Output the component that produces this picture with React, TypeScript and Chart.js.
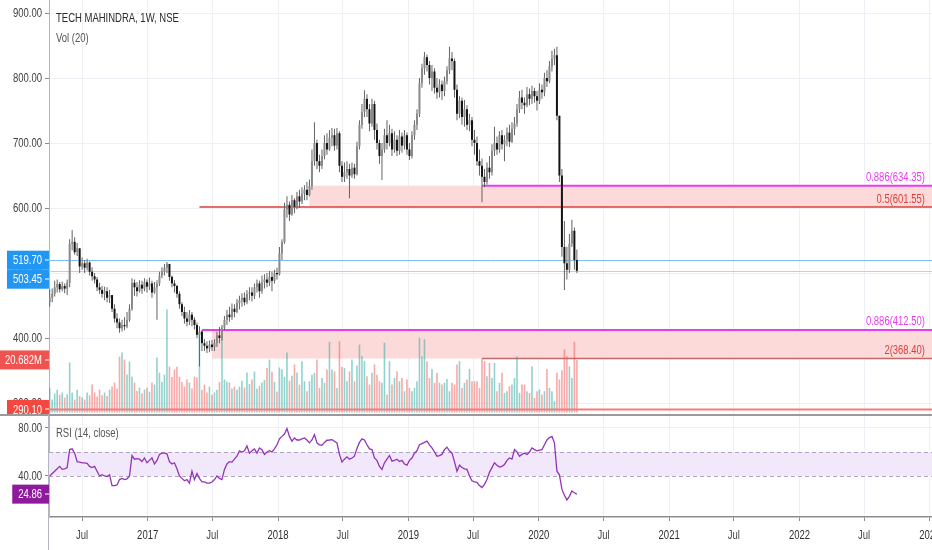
import { useEffect, useRef } from "react"
import { Chart, registerables } from "chart.js"

Chart.register(...registerables)

const FONT = "'Liberation Sans', Arial, sans-serif"
const FONT_SIZE = 13
const TEXT_SCALE = 0.73
const AXIS_TEXT = "#3e3e3e"
const GRID = "#edf0f4"
const MAGENTA = "#e83cf0"
const FIB_RED = "#d9403c"
const FIB_BROWN = "#bf6b6b"
const ZONE_FILL = "#fcdada"

// weekly candles, first one in the week of 1 Apr 2016
const FIRST_WEEK = "2016-04-01"
const FIRST_OPEN = 455
const VIEW_START = "2016-03-30"
const VIEW_END = "2023-01-07"

const CLOSES = [
    462, 468, 478, 483, 475, 480, 476, 485, 545, 548,
    532, 538, 510, 515, 508, 516, 502, 495, 490, 478,
    474, 468, 472, 462, 466, 445, 430, 424, 415, 420,
    418, 428, 445, 485, 478, 472, 482, 476, 486, 479,
    484, 470, 478, 484, 496, 502, 508, 514, 494, 484,
    480, 468, 452, 440, 430, 425, 436, 428, 420, 405,
    410, 392, 388, 384, 390, 386, 392, 404, 400, 416,
    428, 436, 432, 445, 440, 454, 458, 462, 455, 468,
    470, 465, 478, 484, 472, 486, 490, 485, 494, 488,
    500, 498, 530, 548, 598, 605, 590, 612, 602, 618,
    610, 622, 628, 620, 634, 672, 700, 672, 665, 680,
    700, 690, 708, 712, 696, 715, 665, 648, 655, 660,
    650, 662, 652, 695, 728, 748, 768, 752, 730, 760,
    720, 700, 680, 690, 712, 700, 715, 690, 705, 688,
    710, 696, 712, 690, 680, 712, 728, 745, 792, 815,
    832, 820, 800, 810, 785, 778, 790, 780, 795, 812,
    830, 826, 782, 745, 765, 740, 752, 728, 735, 705,
    700, 672, 665, 648, 640, 662, 655, 688, 700, 690,
    712, 698, 705, 716, 702, 722, 730, 752, 770, 762,
    758, 775, 768, 780, 772, 765, 782, 778, 800, 795,
    818, 830, 835, 742, 650, 540, 515, 505, 545, 565,
    520, 503.45,
]

const HIGHS = [
    475, 476, 488, 490, 486, 487, 484, 490, 552, 566,
    555, 546, 530, 524, 520, 522, 518, 509, 500, 494,
    485, 480, 479, 478, 474, 466, 452, 438, 430, 428,
    432, 440, 452, 492, 490, 486, 489, 488, 492, 490,
    493, 488, 486, 489, 502, 509, 514, 517, 514, 496,
    489, 482, 472, 455, 448, 440, 443, 440, 432, 424,
    418, 412, 398, 395, 396, 397, 398, 410, 417, 420,
    434, 443, 448, 453, 452, 460, 465, 469, 470, 474,
    478, 478, 484, 490, 488, 496, 498, 500, 503, 502,
    505, 508, 540, 552, 608, 618, 610, 620, 615, 625,
    628, 632, 635, 640, 644, 690, 732, 705, 682, 690,
    712, 715, 720, 723, 722, 723, 718, 672, 670, 672,
    668, 670, 668, 702, 735, 760, 781, 775, 760, 768,
    765, 730, 705, 700, 722, 735, 728, 722, 718, 712,
    720, 716, 720, 716, 700, 718, 735, 752, 800, 822,
    840, 836, 826, 820, 815, 800, 798, 796, 802, 818,
    848, 840, 830, 790, 772, 770, 766, 758, 745, 740,
    720, 710, 690, 676, 660, 670, 680, 698, 725, 710,
    718, 720, 712, 724, 728, 732, 740, 760, 780, 782,
    770, 786, 784, 788, 785, 780, 792, 790, 808, 812,
    826, 842, 845, 848, 742, 660, 580, 540, 560, 582,
    570, 536,
]

const LOWS = [
    448, 455, 464, 470, 470, 472, 469, 466, 478, 535,
    528, 526, 500, 505, 500, 504, 496, 488, 484, 472,
    468, 462, 458, 455, 454, 440, 424, 415, 408, 410,
    412, 415, 425, 442, 465, 464, 470, 468, 472, 470,
    474, 462, 468, 428, 480, 492, 496, 500, 488, 478,
    470, 462, 445, 434, 422, 418, 420, 418, 413, 400,
    356, 380, 380, 377, 378, 380, 380, 386, 392, 396,
    412, 420, 425, 428, 432, 438, 444, 448, 450, 452,
    458, 456, 460, 470, 462, 468, 476, 478, 480, 472,
    484, 490, 496, 520, 545, 585, 580, 588, 592, 598,
    600, 606, 612, 612, 618, 628, 665, 660, 655, 660,
    675, 682, 688, 695, 688, 690, 655, 640, 640, 645,
    615, 646, 645, 650, 690, 722, 740, 740, 718, 725,
    705, 690, 668, 643, 685, 690, 695, 680, 685, 680,
    682, 685, 690, 682, 674, 676, 705, 720, 740, 785,
    805, 810, 790, 780, 776, 768, 770, 766, 772, 790,
    806, 812, 770, 735, 738, 728, 725, 720, 718, 695,
    682, 665, 650, 609, 632, 636, 645, 650, 680, 682,
    685, 690, 672, 695, 694, 700, 712, 725, 746, 752,
    745, 755, 758, 760, 762, 750, 760, 768, 772, 786,
    792, 810, 820, 735, 640, 525, 474, 490, 500, 540,
    505, 500,
]

// weekly volume, millions of shares
const VOLUMES = [
    9.8, 5.1, 7.5, 9, 7, 7.9, 5.9, 7.2, 19.7, 7.9,
    5.1, 9, 6.5, 5.9, 5.1, 7.9, 6.8, 11, 7.9, 6.2,
    9, 6.8, 7.9, 6.5, 9, 10.2, 11.8, 9.5, 22, 23.6,
    20.8, 15, 20, 14.1, 11.8, 8.5, 9.8, 7.5, 9, 9.8,
    8.2, 11.8, 11, 21.6, 15.7, 12, 14.9, 40.5, 18, 14,
    16.9, 18, 14.1, 12, 10.2, 13, 11.8, 9.5, 14.1, 13.8,
    31.4, 9, 11, 7.9, 10.2, 7, 7.9, 9, 12, 30.7,
    13, 12.2, 11.8, 9.5, 10.2, 9, 10.2, 12.5, 9.8, 15.7,
    11.2, 13, 16.1, 9.5, 10.4, 11.8, 12.8, 17.5, 20.8, 16,
    12, 8.3, 17.7, 17, 14, 23.6, 12.5, 14.5, 18.9, 15.7,
    11, 20.2, 12.3, 8.4, 12.3, 14.9, 15.6, 20.8, 9.7, 13.6,
    11.7, 16.9, 27.8, 16.9, 16.2, 9.7, 28, 17.9, 17.5, 12.3,
    16.2, 20.8, 12.3, 18.5, 26.7, 22.1, 20.2, 14.3, 11, 15.6,
    18.9, 14.9, 12.3, 11.7, 27.4, 7.1, 20.2, 11, 13.6, 16.2,
    12.3, 13.6, 8.4, 13, 9.7, 8.4, 9.7, 12.3, 29.4, 22,
    28.8, 20.2, 13.6, 17.1, 11.7, 15.6, 11.7, 11, 11.7, 13.2,
    8.4, 11.7, 11, 18.9, 20.2, 9.7, 11.7, 13, 17.1, 12.3,
    12.3, 12.3, 9.7, 21.1, 20.2, 14.3, 19.5, 13.6, 19.5, 8.4,
    11.7, 15.6, 7.7, 8.4, 10.4, 11, 13.6, 22.1, 7.7, 11,
    11, 8.4, 7.7, 18.2, 5.8, 8.4, 9.1, 7.1, 8.4, 17.1,
    9.7, 8.4, 4.5, 15.6, 13, 16.6, 24.8, 22.1, 18.2, 13.6,
    27.8, 20.682,
]

const RSI_VALUES = [
    40, 42, 44, 46, 48, 45.5, 46, 47, 62, 62.6,
    59, 52, 51.5, 51, 51, 50.5, 48, 47, 48, 44,
    40, 41, 40, 39.5, 41, 32, 32, 32.5, 37, 38,
    37, 37.5, 40, 57, 54, 54.5, 54, 52, 55, 51,
    53, 55, 50, 53, 58, 59, 59, 58.5, 52, 50,
    51, 46, 40, 38, 36, 37, 34, 44, 37, 42,
    38, 35, 35, 34, 34, 35, 37, 40, 38, 37,
    45.5, 50, 52, 51.6, 54, 56.5, 61, 60, 61, 65,
    59, 61, 62.6, 59, 63.4, 62, 58, 60, 61, 60,
    62.6, 66, 71, 73, 75, 79.5, 73, 69, 71.7, 70,
    70, 71, 71.7, 70, 67.6, 70, 74.5, 67.6, 66, 65.6,
    68, 69.8, 70, 70.3, 69, 67.6, 58, 51.6, 54, 56,
    54, 55, 56.5, 63, 68, 71, 70, 66, 62.6, 62,
    55, 53, 48, 45.5, 51, 54, 57, 52.4, 53, 54,
    52, 53, 50, 49, 53, 55, 59, 61, 66, 67,
    68, 69, 66, 63.4, 60, 56.5, 57, 58, 62, 64,
    61, 59, 52, 44, 49, 47, 46, 45.5, 40, 36,
    35, 34.6, 32, 30.3, 33, 37, 43, 47, 51, 49,
    47.4, 48, 49.6, 53, 55, 54, 62, 60, 56.5, 58,
    59, 58, 60, 63.4, 62, 61, 61.5, 62, 66, 70,
    72, 73, 67.6, 44, 41, 29, 24, 20, 23, 27.5,
    26, 24.86,
]

const TIME_TICKS = [
    "2016-07-01", "2017-01-01", "2017-07-01", "2018-01-01", "2018-07-01",
    "2019-01-01", "2019-07-01", "2020-01-01", "2020-07-01", "2021-01-01",
    "2021-07-01", "2022-01-01", "2022-07-01", "2023-01-01",
]
const TIME_LABELS = ["Jul", "2017", "Jul", "2018", "Jul", "2019", "Jul", "2020", "Jul", "2021", "Jul", "2022", "Jul", "2023"]

const PRICE_TICKS = [300, 400, 500, 600, 700, 800, 900]
const PRICE_MIN = 283.1
const PRICE_MAX = 920
const VOL_MIN = -0.55
const VOL_MAX = 162
const RSI_TICKS = [40, 80]
const RSI_MIN = 5.8
const RSI_MAX = 90
const RSI_BAND = [40, 60]

const FIB_ZONES = [
    { top: 634.35, bottom: 601.55, from: "2018-03-30" },
    { top: 412.5, bottom: 368.4, from: "2017-06-30" },
]
const FIB_LINES = [
    { price: 634.35, from: "2019-07-26", label: "0.886(634.35)", color: MAGENTA, width: 2 },
    { price: 601.55, from: "2017-05-26", label: "0.5(601.55)", color: FIB_RED, width: 1.5 },
    { price: 412.5, from: "2017-06-02", label: "0.886(412.50)", color: MAGENTA, width: 2 },
    { price: 368.4, from: "2019-07-26", label: "2(368.40)", color: FIB_RED, width: 1.5 },
]
const LEVEL_LINE = 519.7
const SUPPORT_LINE = 290.1

const toYear = (iso: string) => {
    const t = Date.parse(iso + "T00:00:00Z")
    const y = new Date(t).getUTCFullYear()
    const a = Date.UTC(y, 0, 1)
    const b = Date.UTC(y + 1, 0, 1)
    return y + (t - a) / (b - a)
}

const weekYear = (i: number) => {
    const t = Date.parse(FIRST_WEEK + "T00:00:00Z") + i * 7 * 86400000
    return toYear(new Date(t).toISOString().slice(0, 10))
}

const WEEKS = CLOSES.map((_, i) => weekYear(i))
const LAST_CLOSE = CLOSES[CLOSES.length - 1]

// the screenshot's font is narrow, so text is drawn squeezed horizontally
function text(ctx: any, s: string, x: number, y: number, align: string, color: string) {
    ctx.save()
    ctx.font = `${FONT_SIZE}px ${FONT}`
    ctx.fillStyle = color
    ctx.textAlign = align
    ctx.textBaseline = "middle"
    ctx.translate(x, y)
    ctx.scale(TEXT_SCALE, 1)
    ctx.fillText(s, 0, 0)
    ctx.restore()
}

function textWidth(ctx: any, s: string) {
    ctx.save()
    ctx.font = `${FONT_SIZE}px ${FONT}`
    const w = ctx.measureText(s).width * TEXT_SCALE
    ctx.restore()
    return w
}

function badge(ctx: any, s: string, y: number, color: string, right: number) {
    const w = textWidth(ctx, s) + 13
    ctx.fillStyle = color
    ctx.fillRect(right - w, y - 9.5, w, 19)
    ctx.fillStyle = "#ffffff"
    ctx.fillRect(right - 4, Math.round(y) - 0.5, 4, 1)
    text(ctx, s, right - 7, y + 0.5, "right", "#ffffff")
}

function yLabels(chart: any, values: number[]) {
    const { ctx, chartArea: a, scales } = chart
    for (const v of values) {
        text(ctx, v.toFixed(2), a.left - 7, scales.y.getPixelForValue(v) + 0.5, "right", AXIS_TEXT)
    }
}

const xScale = (labels: boolean) => ({
    type: "linear",
    min: toYear(VIEW_START),
    max: toYear(VIEW_END),
    offset: false,
    afterBuildTicks: (s: any) => {
        s.ticks = TIME_TICKS.map((d) => ({ value: toYear(d) }))
    },
    afterFit: (s: any) => {
        s.height = labels ? 33 : 0
        s.paddingLeft = 0
        s.paddingRight = 0
    },
    ticks: { display: false },
    grid: { color: GRID, offset: false, drawTicks: labels, tickLength: 4, tickColor: "#8c8c8c" },
    border: { display: labels, color: "#8c8c8c", width: 1.5 },
})

const yScale = (min: number, max: number, ticks: number[]) => ({
    position: "left",
    min,
    max,
    afterBuildTicks: (s: any) => {
        s.ticks = ticks.map((v) => ({ value: v }))
    },
    afterFit: (s: any) => {
        s.width = 49
        s.paddingTop = 0
        s.paddingBottom = 0
    },
    ticks: { display: false },
    grid: { color: GRID, tickColor: "#8c8c8c", tickLength: 4 },
    border: { color: "#b2b5be", width: 1 },
})

const priceOverlay = {
    id: "priceOverlay",
    beforeDatasetsDraw(chart: any) {
        const { ctx, chartArea: a, scales } = chart
        const sx = scales.x
        const sy = scales.y
        ctx.save()
        ctx.beginPath()
        ctx.rect(a.left, a.top, a.right - a.left, a.bottom - a.top)
        ctx.clip()
        ctx.fillStyle = ZONE_FILL
        for (const z of FIB_ZONES) {
            const x0 = sx.getPixelForValue(toYear(z.from))
            const y0 = sy.getPixelForValue(z.top)
            const y1 = sy.getPixelForValue(z.bottom)
            ctx.fillRect(x0, y0, a.right - x0, y1 - y0)
        }
        const flat = [
            { price: LEVEL_LINE, color: "#7cc0f0" },
            { price: LAST_CLOSE, color: "#c9ccd3" },
        ]
        for (const l of flat) {
            const y = Math.round(sy.getPixelForValue(l.price)) + 0.5
            ctx.strokeStyle = l.color
            ctx.lineWidth = 1
            ctx.beginPath()
            ctx.moveTo(a.left, y)
            ctx.lineTo(a.right, y)
            ctx.stroke()
        }
        for (const l of FIB_LINES) {
            const x0 = sx.getPixelForValue(toYear(l.from))
            const y = sy.getPixelForValue(l.price)
            ctx.strokeStyle = l.price === 368.4 ? FIB_BROWN : l.color
            ctx.lineWidth = l.width
            ctx.beginPath()
            ctx.moveTo(x0, y)
            ctx.lineTo(a.right, y)
            ctx.stroke()
        }
        ctx.restore()
    },
    afterDatasetsDraw(chart: any) {
        const { ctx, chartArea: a, scales } = chart
        const y = scales.y.getPixelForValue(SUPPORT_LINE)
        ctx.save()
        ctx.strokeStyle = "#f47c7c"
        ctx.lineWidth = 2
        ctx.beginPath()
        ctx.moveTo(a.left, y)
        ctx.lineTo(a.right, y)
        ctx.stroke()
        ctx.restore()
    },
    afterDraw(chart: any) {
        const { ctx, chartArea: a, scales } = chart
        const sy = scales.y
        for (const l of FIB_LINES) {
            text(ctx, l.label, a.right - 7, sy.getPixelForValue(l.price) - 8, "right", l.color)
        }
        text(ctx, "TECH MAHINDRA, 1W, NSE", 56, 18.5, "left", "#2a2a2a")
        text(ctx, "Vol (20)", 56, 38.5, "left", "#555555")
        yLabels(chart, PRICE_TICKS)
        const items = [
            { s: LEVEL_LINE.toFixed(2), y: sy.getPixelForValue(LEVEL_LINE), color: "#2196f3" },
            { s: LAST_CLOSE.toFixed(2), y: sy.getPixelForValue(LAST_CLOSE), color: "#2196f3" },
            {
                s: VOLUMES[VOLUMES.length - 1].toFixed(3) + "M",
                y: scales.vol.getPixelForValue(VOLUMES[VOLUMES.length - 1]),
                color: "#ef5350",
            },
            { s: SUPPORT_LINE.toFixed(2), y: sy.getPixelForValue(SUPPORT_LINE), color: "#f4473f" },
        ].sort((p, q) => p.y - q.y)
        let prev = -100
        for (const it of items) {
            const y = Math.max(it.y, prev + 19)
            badge(ctx, it.s, y, it.color, a.left)
            prev = y
        }
    },
}

const rsiOverlay = {
    id: "rsiOverlay",
    beforeDatasetsDraw(chart: any) {
        const { ctx, chartArea: a, scales } = chart
        const sy = scales.y
        const yTop = sy.getPixelForValue(RSI_BAND[1])
        const yBot = sy.getPixelForValue(RSI_BAND[0])
        ctx.save()
        ctx.fillStyle = "#f1e8fc"
        ctx.fillRect(a.left, yTop, a.right - a.left, yBot - yTop)
        ctx.strokeStyle = "#b3a3c2"
        ctx.lineWidth = 1
        ctx.setLineDash([4, 3])
        for (const y of [yTop, yBot]) {
            ctx.beginPath()
            ctx.moveTo(a.left, Math.round(y) + 0.5)
            ctx.lineTo(a.right, Math.round(y) + 0.5)
            ctx.stroke()
        }
        ctx.restore()
    },
    afterDraw(chart: any) {
        const { ctx, chartArea: a, scales, height, width } = chart
        ctx.save()
        ctx.fillStyle = "#9a9a9a"
        ctx.fillRect(0, 0, width, 2)
        ctx.fillStyle = "#b2b5be"
        ctx.fillRect(a.left - 1, 0, 1, height)
        ctx.restore()
        text(ctx, "RSI (14, close)", 56, 19, "left", "#555555")
        yLabels(chart, RSI_TICKS)
        TIME_TICKS.forEach((d, i) => {
            const x = scales.x.getPixelForValue(toYear(d))
            const isYear = TIME_LABELS[i] !== "Jul"
            text(ctx, TIME_LABELS[i], x, a.bottom + 18.5, "center", isYear ? "#2e2e2e" : "#444444")
        })
        const last = RSI_VALUES[RSI_VALUES.length - 1]
        badge(ctx, last.toFixed(2), scales.y.getPixelForValue(last), "#8e1a9c", a.left)
    },
}

function PricePane() {
    const ref = useRef<HTMLCanvasElement>(null)
    useEffect(() => {
        const canvas = ref.current
        if (!canvas) return
        const opens = CLOSES.map((_, i) => (i === 0 ? FIRST_OPEN : CLOSES[i - 1]))
        const up = CLOSES.map((c, i) => c >= opens[i])
        const chart = new Chart(canvas, {
            type: "bar",
            data: {
                datasets: [
                    {
                        data: WEEKS.map((x, i) => ({ x, y: [opens[i], CLOSES[i]] })),
                        backgroundColor: up.map((u) => (u ? "#8a8a8a" : "#141414")),
                        barThickness: 2,
                        grouped: false,
                        inflateAmount: 0,
                        yAxisID: "y",
                    },
                    {
                        data: WEEKS.map((x, i) => ({
                            x,
                            y: [Math.min(LOWS[i], opens[i], CLOSES[i]), Math.max(HIGHS[i], opens[i], CLOSES[i])],
                        })),
                        backgroundColor: "#636363",
                        barThickness: 1,
                        grouped: false,
                        inflateAmount: 0,
                        yAxisID: "y",
                    },
                    {
                        data: WEEKS.map((x, i) => ({ x, y: VOLUMES[i] })),
                        backgroundColor: up.map((u) => (u ? "rgba(38,166,154,0.5)" : "rgba(239,83,80,0.5)")),
                        barThickness: 1.6,
                        grouped: false,
                        inflateAmount: 0,
                        yAxisID: "vol",
                    },
                ],
            } as any,
            options: {
                responsive: false,
                animation: false,
                events: [],
                layout: { padding: 0 },
                plugins: { legend: { display: false }, tooltip: { enabled: false } },
                scales: {
                    x: xScale(false) as any,
                    y: yScale(PRICE_MIN, PRICE_MAX, PRICE_TICKS) as any,
                    vol: { display: false, min: VOL_MIN, max: VOL_MAX },
                },
            },
            plugins: [priceOverlay],
        })
        return () => chart.destroy()
    }, [])
    return <canvas ref={ref} width={932} height={414} style={{ display: "block" }} />
}

function RsiPane() {
    const ref = useRef<HTMLCanvasElement>(null)
    useEffect(() => {
        const canvas = ref.current
        if (!canvas) return
        const chart = new Chart(canvas, {
            type: "line",
            data: {
                datasets: [
                    {
                        data: WEEKS.map((x, i) => ({ x, y: RSI_VALUES[i] })),
                        borderColor: "#9334b8",
                        borderWidth: 1.3,
                        pointRadius: 0,
                        tension: 0,
                    },
                ],
            } as any,
            options: {
                responsive: false,
                animation: false,
                events: [],
                layout: { padding: { top: 2 } },
                plugins: { legend: { display: false }, tooltip: { enabled: false } },
                scales: {
                    x: xScale(true) as any,
                    y: yScale(RSI_MIN, RSI_MAX, RSI_TICKS) as any,
                },
            },
            plugins: [rsiOverlay],
        })
        return () => chart.destroy()
    }, [])
    return <canvas ref={ref} width={932} height={136} style={{ display: "block" }} />
}

export default function App() {
    useEffect(() => {
        document.body.style.margin = "0"
        document.body.style.background = "#ffffff"
    }, [])
    return (
        <div style={{ width: 932, height: 550, background: "#ffffff" }}>
            <PricePane />
            <RsiPane />
        </div>
    )
}
